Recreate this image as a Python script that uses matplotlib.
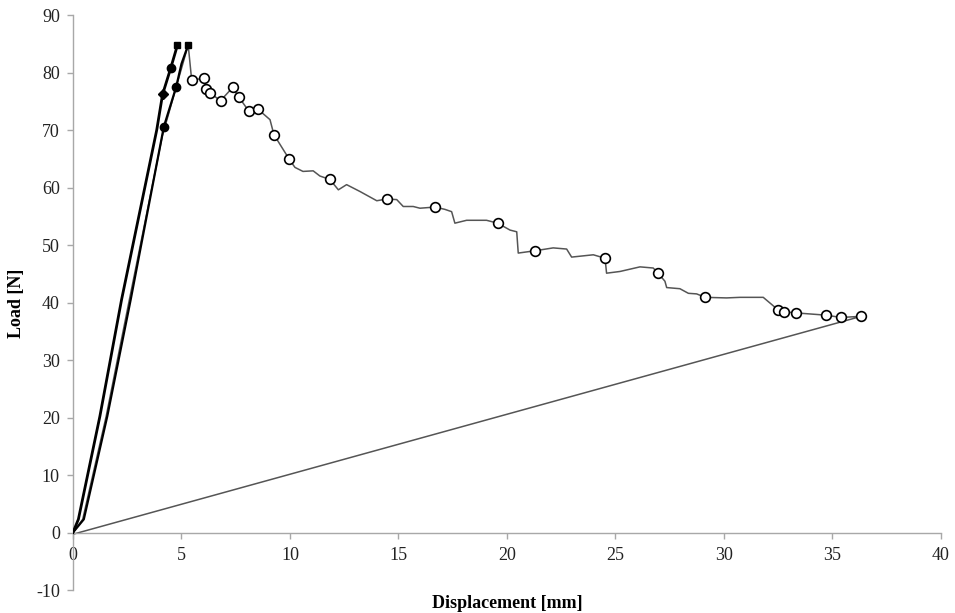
import matplotlib.pyplot as plt

plt.rcParams['font.family'] = ['Liberation Serif', 'DejaVu Serif']
plt.rcParams['axes.unicode_minus'] = False

# 主曲线（加载 + 峰后 + 卸载）
main_x = [0, 0.45, 1.53, 2.60, 4.12, 5.31, 5.47, 6.05, 6.11, 6.33, 6.80, 7.36, 7.65, 8.10, 8.53,
          9.08, 9.26, 9.97, 10.23, 10.6, 11.07, 11.38, 11.84, 12.23, 12.61, 13.23, 14.0,
          14.46, 14.92, 15.22, 15.68, 15.99, 16.68, 17.14, 17.45, 17.6, 18.14, 19.06, 19.57,
          20.14, 20.45, 20.52, 21.29, 22.13, 22.75, 22.98, 23.98, 24.52, 24.59, 25.21, 26.13,
          26.74, 26.94, 27.28, 27.36, 27.97, 28.36, 28.74, 29.14, 30.12, 30.74, 31.81, 32.5,
          32.75, 33.3, 34.7, 35.4, 36.33, 0]
main_y = [0, 2.3, 20.2, 40.5, 69.0, 84.8, 78.7, 79.0, 77.1, 76.4, 75.1, 77.4, 75.7, 73.3, 73.6,
          71.8, 69.2, 64.9, 63.5, 62.8, 62.9, 62.0, 61.4, 59.6, 60.5, 59.3, 57.7,
          58.0, 57.9, 56.7, 56.7, 56.4, 56.6, 56.2, 55.8, 53.8, 54.3, 54.3, 53.8,
          52.6, 52.3, 48.6, 49.0, 49.5, 49.3, 47.9, 48.3, 47.7, 45.1, 45.4, 46.2,
          46.0, 45.2, 43.7, 42.6, 42.4, 41.6, 41.5, 40.9, 40.8, 40.9, 40.9, 38.7,
          38.4, 38.2, 37.8, 37.4, 37.6, -0.3]

# 空心圆标记
open_x = [5.47, 6.05, 6.11, 6.33, 6.80, 7.36, 7.65, 8.10, 8.53, 9.26, 9.97, 11.84, 14.46,
          16.68, 19.57, 21.29, 24.52, 26.94, 29.14, 32.5, 32.75, 33.3, 34.7, 35.4, 36.33]
open_y = [78.7, 79.0, 77.1, 76.4, 75.1, 77.4, 75.7, 73.3, 73.6, 69.2, 64.9, 61.4, 58.0,
          56.6, 53.8, 49.0, 47.7, 45.2, 40.9, 38.7, 38.4, 38.2, 37.8, 37.4, 37.6]

# 其他两条加载曲线
a_x = [0, 0.25, 1.24, 2.24, 3.86, 4.13, 4.50, 4.81]
a_y = [0, 2.3, 20.2, 40.5, 70.0, 76.2, 80.7, 84.7]
b_x = [0, 0.50, 1.58, 2.66, 4.19, 4.75, 5.0, 5.31]
b_y = [0, 2.3, 20.2, 40.5, 70.6, 77.4, 81.5, 84.8]

sq_x = [4.81, 5.31]
sq_y = [84.7, 84.8]
dot_x = [4.50, 4.19, 4.75]
dot_y = [80.7, 70.6, 77.4]
dia_x = [4.13]
dia_y = [76.2]

fig = plt.figure(figsize=(9.55, 6.13), dpi=100)
ax = fig.add_axes([0.0764, 0.0375, 0.9089, 0.938])

ax.plot(main_x, main_y, color='#555555', lw=1.1, zorder=2)
ax.plot(a_x, a_y, color='black', lw=2.0, zorder=3)
ax.plot(b_x, b_y, color='black', lw=1.6, zorder=3)
ax.plot(open_x, open_y, ls='none', marker='o', ms=7, mfc='white', mec='black', mew=1.2, zorder=4)
ax.plot(sq_x, sq_y, ls='none', marker='s', ms=5, color='black', zorder=4)
ax.plot(dot_x, dot_y, ls='none', marker='o', ms=6, color='black', zorder=4)
ax.plot(dia_x, dia_y, ls='none', marker='D', ms=5, color='black', zorder=4)

ax.set_xlim(0, 40)
ax.set_ylim(-10, 90)
ax.set_xticks(range(0, 41, 5))
ax.set_yticks(range(-10, 91, 10))

ax.spines['top'].set_visible(False)
ax.spines['right'].set_visible(False)
ax.spines['bottom'].set_position(('data', 0))
for s in ['left', 'bottom']:
    ax.spines[s].set_color('#a8a8a8')
    ax.spines[s].set_linewidth(1.0)
ax.tick_params(axis='both', colors='#a8a8a8', labelcolor='#222222', labelsize=13, length=4.5, width=1.0)
ax.tick_params(axis='y', pad=5)
ax.tick_params(axis='x', pad=6)

fig.text(0.5 * (73 + 941) / 955, 1 - 603 / 613, 'Displacement [mm]', ha='center', va='center',
         fontsize=13, fontweight='bold')
fig.text(17 / 955, 1 - 303 / 613, 'Load [N]', ha='center', va='center', rotation=90,
         fontsize=13, fontweight='bold')

fig.savefig('out.png', dpi=100)
